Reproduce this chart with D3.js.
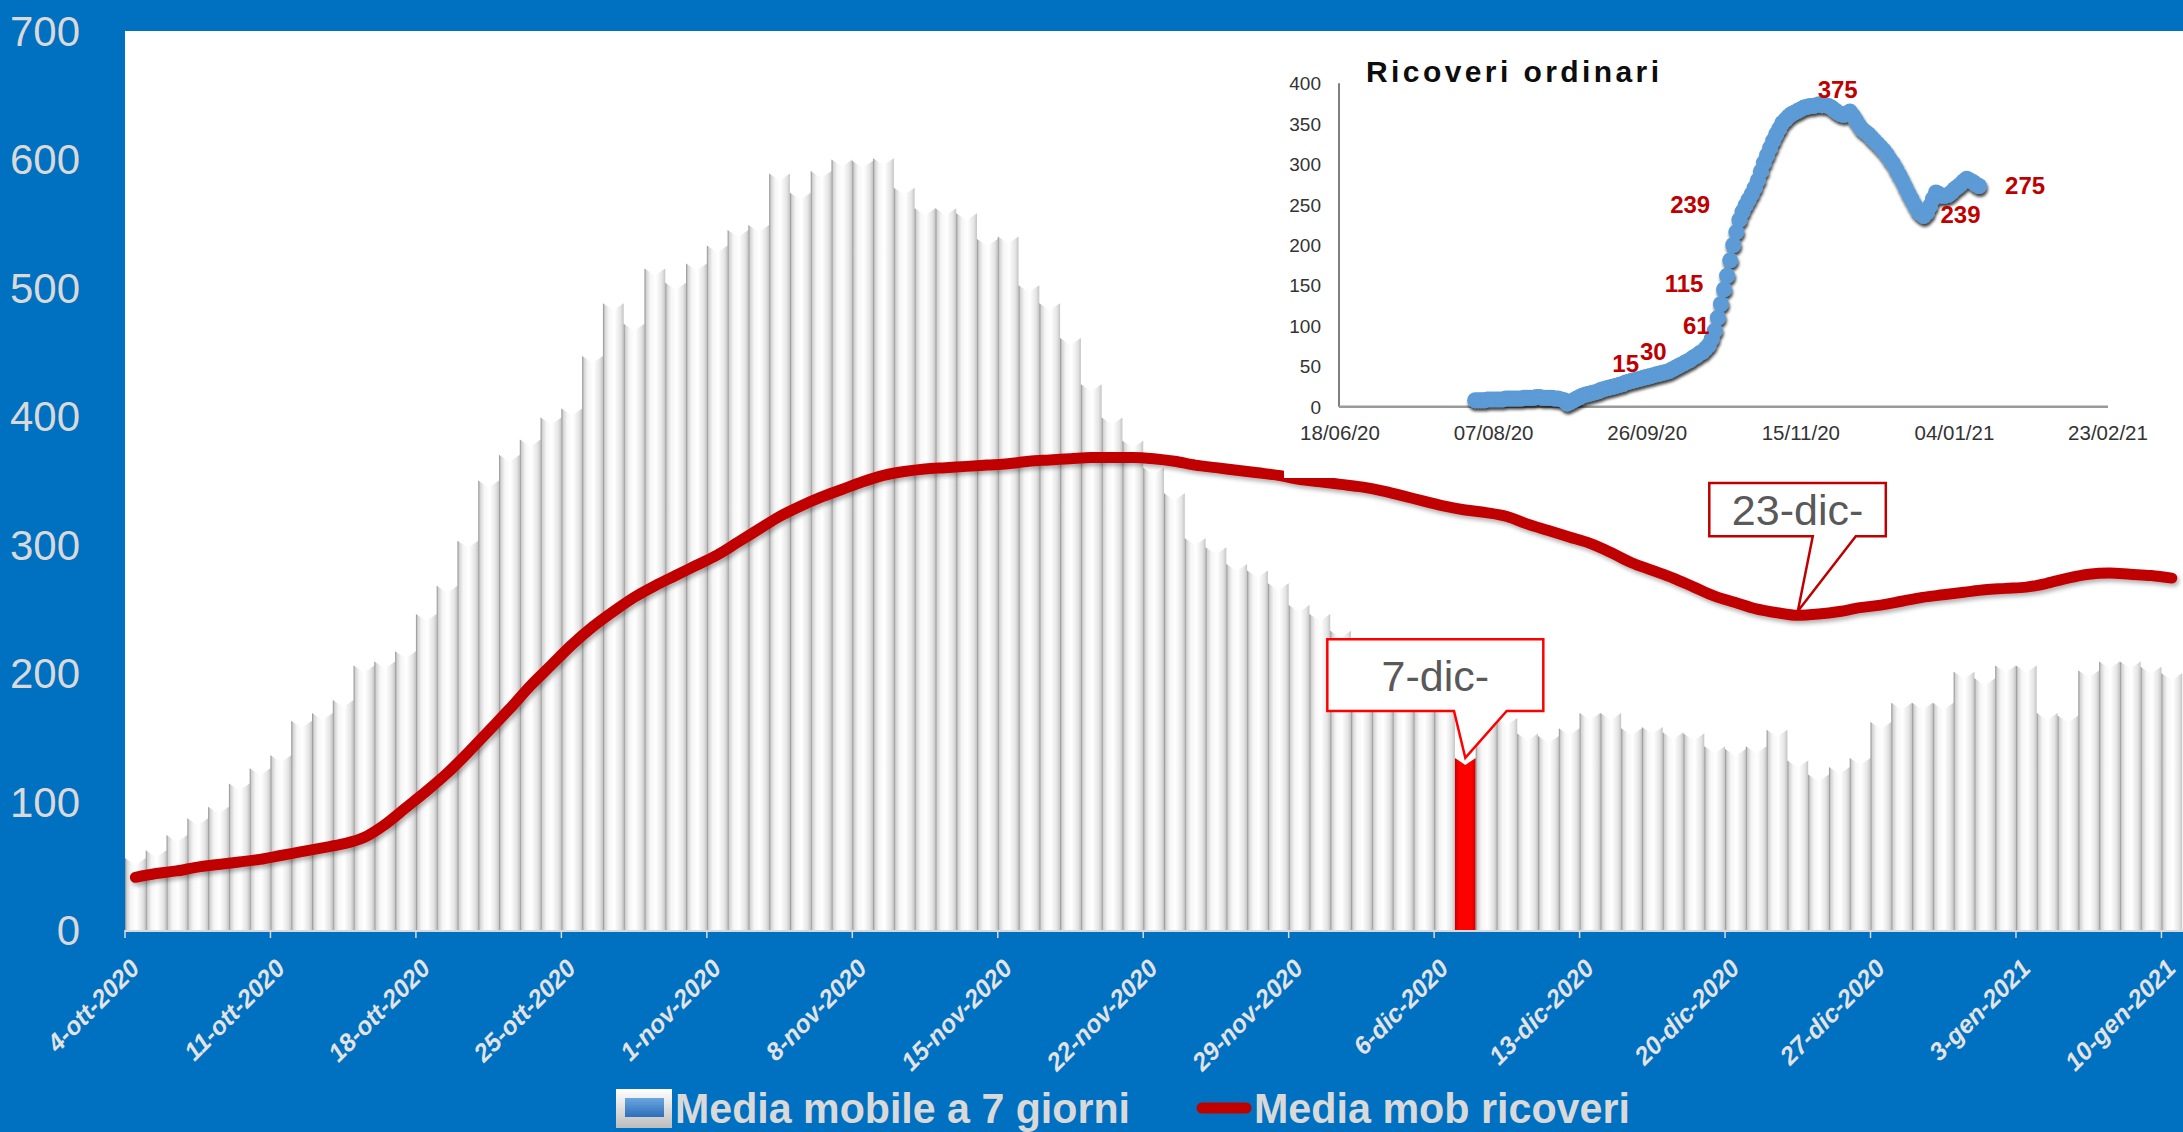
<!DOCTYPE html>
<html>
<head>
<meta charset="utf-8">
<script src="https://cdn.jsdelivr.net/npm/d3@7"></script>
<style>
  html, body { margin: 0; padding: 0; background: #0070C0; }
  svg { display: block; }
  text { font-family: "Liberation Sans", Arial, sans-serif; }
</style>
</head>
<body>
<script>
var W = 2183, H = 1132;

// ---- main chart data: one value per day starting 4-ott-2020 ----
var startDay = "2020-10-04";
var mediaMobile = [
  56, 62, 74, 87, 96, 114, 126, 136, 163, 169,
  179, 206, 209, 217, 246, 268, 303, 350, 370, 382,
  399, 406, 447, 488, 472, 515, 504, 519, 533, 545,
  549, 589, 574, 591, 600, 599, 601, 578, 562, 562,
  558, 538, 540, 502, 488, 461, 425, 399, 381, 360,
  340, 305, 298, 285, 280, 270, 253, 246, 233, 222,
  214, 205, 196, 188, 134, 178, 165, 153, 151, 157,
  169, 169, 157, 158, 154, 153, 143, 141, 143, 156,
  132, 121, 127, 134, 162, 177, 177, 177, 201, 196,
  206, 206, 169, 167, 202, 209, 209, 205, 200
];
var mediaRicoveri = [
  41, 44, 46, 49, 51, 53, 55, 58, 61, 64,
  67, 72, 82, 95, 108, 122, 138, 155, 172, 190,
  206, 222, 236, 248, 259, 268, 276, 284, 292, 302,
  312, 322, 330, 337, 343, 349, 354, 357, 359, 360,
  361, 362, 363, 365, 366, 367, 368, 368, 368, 367,
  365, 362, 360, 358, 356, 354, 351, 349, 347, 345,
  342, 338, 334, 330, 327, 325, 322, 316, 311, 306,
  301, 294, 286, 280, 274, 267, 260, 255, 250, 247,
  245, 246, 248, 251, 253, 256, 259, 261, 263, 265,
  266, 267, 270, 274, 277, 278, 277, 276, 274
];
var highlightDay = "2020-12-07";
var xTickLabels = ["4-ott-2020", "11-ott-2020", "18-ott-2020", "25-ott-2020", "1-nov-2020",
  "8-nov-2020", "15-nov-2020", "22-nov-2020", "29-nov-2020", "6-dic-2020", "13-dic-2020",
  "20-dic-2020", "27-dic-2020", "3-gen-2021", "10-gen-2021"];
var yTicks = [0, 100, 200, 300, 400, 500, 600, 700];
var callouts = [
  { text: "7-dic-", day: "2020-12-07", series: "bar" },
  { text: "23-dic-", day: "2020-12-23", series: "line" }
];
var legendLabels = ["Media mobile a 7 giorni", "Media mob ricoveri"];

// ---- inset "Ricoveri ordinari": one value per day from 1 Aug 2020 ----
var insetStart = "2020-08-01";
var ricoveriOrdinari = [
  8, 8, 8, 8, 9, 9, 9, 9, 9, 9,
  10, 10, 10, 10, 10, 10, 11, 11, 11, 11,
  12, 12, 11, 11, 11, 11, 10, 10, 9, 8,
  4, 6, 8, 10, 12, 14, 15, 16, 17, 18,
  19, 21, 22, 23, 24, 25, 26, 27, 28, 30,
  31, 32, 33, 34, 35, 36, 37, 38, 39, 40,
  41, 42, 43, 44, 46, 48, 50, 52, 54, 56,
  58, 61, 63, 66, 68, 72, 76, 84, 94, 110,
  127, 145, 162, 181, 200, 216, 231, 241, 249, 256,
  263, 271, 280, 291, 302, 311, 320, 329, 337, 344,
  351, 355, 359, 362, 364, 366, 368, 370, 371, 372,
  372, 373, 374, 373, 373, 372, 370, 367, 364, 362,
  361, 363, 365, 360, 354, 348, 343, 340, 337, 333,
  329, 325, 321, 317, 312, 306, 301, 294, 287, 280,
  272, 264, 257, 250, 243, 239, 236, 240, 248, 257,
  265, 263, 261, 261, 262, 265, 269, 272, 275, 279,
  282, 280, 278, 275, 273
];
var insetXDomain = ["2020-06-18", "2021-02-23"];
var insetXTicks = ["2020-06-18", "2020-08-07", "2020-09-26", "2020-11-15", "2021-01-04", "2021-02-23"];
var insetXLabels = ["18/06/20", "07/08/20", "26/09/20", "15/11/20", "04/01/21", "23/02/21"];
var insetYTicks = [0, 50, 100, 150, 200, 250, 300, 350, 400];
var insetLabelText = ["15", "30", "61", "115", "239", "375", "239", "275"];
var insetLabelDate = ["2020-09-19", "2020-09-28", "2020-10-12", "2020-10-08", "2020-10-10", "2020-11-27", "2021-01-06", "2021-01-27"];
var insetLabelValue = [54, 68, 100, 152, 250, 392, 238, 273];

var parse = d3.timeParse("%Y-%m-%d");
var day0 = parse(startDay);
var days = mediaMobile.map(function(d, i) { return d3.timeDay.offset(day0, i); });

var svg = d3.select("body").append("svg")
  .attr("width", W)
  .attr("height", H);

var defs = svg.append("defs");

var barGrad = defs.append("linearGradient").attr("id", "barGrad");
[["0%", "#8c8c8c"], ["9%", "#d4d4d4"], ["28%", "#f6f6f6"], ["55%", "#ffffff"], ["85%", "#e4e4e4"], ["100%", "#c4c4c4"]]
  .forEach(function(s) { barGrad.append("stop").attr("offset", s[0]).attr("stop-color", s[1]); });

var redGrad = defs.append("linearGradient").attr("id", "redGrad");
[["0%", "#c00000"], ["20%", "#ff0000"], ["80%", "#ff0000"], ["100%", "#d00000"]]
  .forEach(function(s) { redGrad.append("stop").attr("offset", s[0]).attr("stop-color", s[1]); });

var frameGrad = defs.append("linearGradient").attr("id", "frameGrad").attr("x1", 0).attr("x2", 0).attr("y1", 0).attr("y2", 1);
[["0%", "#ffffff"], ["100%", "#bdbdbd"]]
  .forEach(function(s) { frameGrad.append("stop").attr("offset", s[0]).attr("stop-color", s[1]); });

var blueGrad = defs.append("linearGradient").attr("id", "blueGrad").attr("x1", 0).attr("x2", 0).attr("y1", 0).attr("y2", 1);
[["0%", "#6aa6e0"], ["100%", "#2f6fba"]]
  .forEach(function(s) { blueGrad.append("stop").attr("offset", s[0]).attr("stop-color", s[1]); });

defs.append("filter").attr("id", "lineShadow")
  .attr("x", "-5%").attr("y", "-20%").attr("width", "110%").attr("height", "140%")
  .append("feDropShadow")
  .attr("dx", 2).attr("dy", 3).attr("stdDeviation", 2)
  .attr("flood-color", "#000").attr("flood-opacity", 0.3);

defs.append("filter").attr("id", "dotShadow")
  .attr("x", "-10%").attr("y", "-10%").attr("width", "120%").attr("height", "130%")
  .append("feDropShadow")
  .attr("dx", 1).attr("dy", 3).attr("stdDeviation", 1.5)
  .attr("flood-color", "#000").attr("flood-opacity", 0.75);

// background
svg.append("rect").attr("width", W).attr("height", H).attr("fill", "#0070C0");

var plot = { left: 125, top: 31, bottom: 930, right: W };
svg.append("rect")
  .attr("x", plot.left).attr("y", plot.top)
  .attr("width", plot.right - plot.left).attr("height", plot.bottom - plot.top)
  .attr("fill", "#ffffff");

var x = d3.scaleBand()
  .domain(days)
  .range([plot.left, plot.left + days.length * 20.78])
  .padding(0);

var y = d3.scaleLinear()
  .domain([0, 700])
  .range([plot.bottom, plot.top]);

var bw = x.bandwidth();
var notch = 7;
var isHighlight = function(d) { return +d === +parse(highlightDay); };

// bars with a V notch on top
svg.append("g").attr("class", "bars")
  .selectAll("path")
  .data(days)
  .enter()
  .append("path")
  .attr("d", function(d, i) {
    var x0 = x(d), x1 = x(d) + bw, yt = y(mediaMobile[i]);
    return "M" + x0 + "," + plot.bottom + "V" + yt +
      "L" + (x0 + bw / 2) + "," + (yt + notch) +
      "L" + x1 + "," + yt + "V" + plot.bottom + "Z";
  })
  .attr("fill", function(d) { return isHighlight(d) ? "url(#redGrad)" : "url(#barGrad)"; });

// smoothed moving-average line
var line = d3.line()
  .x(function(d, i) { return x(days[i]) + bw / 2; })
  .y(function(d) { return y(d); })
  .curve(d3.curveMonotoneX);

svg.append("path")
  .datum(mediaRicoveri)
  .attr("d", line)
  .attr("fill", "none")
  .attr("stroke", "#C00000")
  .attr("stroke-width", 11)
  .attr("stroke-linecap", "round")
  .attr("stroke-linejoin", "round")
  .attr("filter", "url(#lineShadow)");

// ---- inset chart ----
var inset = svg.append("g").attr("class", "inset");
inset.append("rect")
  .attr("x", 1284).attr("y", plot.top)
  .attr("width", W - 1284).attr("height", 478 - plot.top)
  .attr("fill", "#ffffff");

var ix = d3.scaleTime()
  .domain(insetXDomain.map(parse))
  .range([1340, 2108]);
var iy = d3.scaleLinear()
  .domain([0, 400])
  .range([406.7, 83.3]);

inset.append("line")
  .attr("x1", 1339).attr("x2", 1339)
  .attr("y1", iy(400)).attr("y2", iy(0))
  .attr("stroke", "#7f7f7f").attr("stroke-width", 2);
inset.append("line")
  .attr("x1", 1339).attr("x2", ix(parse(insetXDomain[1])))
  .attr("y1", iy(0)).attr("y2", iy(0))
  .attr("stroke", "#9a9a9a").attr("stroke-width", 2.5);

inset.selectAll(".iyl")
  .data(insetYTicks)
  .enter()
  .append("text")
  .attr("class", "iyl")
  .attr("x", 1321)
  .attr("y", function(d) { return iy(d) + 7; })
  .attr("text-anchor", "end")
  .attr("font-size", 19)
  .attr("fill", "#333333")
  .text(function(d) { return d; });

inset.selectAll(".ixl")
  .data(insetXTicks)
  .enter()
  .append("text")
  .attr("class", "ixl")
  .attr("x", function(d) { return ix(parse(d)); })
  .attr("y", 440)
  .attr("text-anchor", "middle")
  .attr("font-size", 20.5)
  .attr("fill", "#333333")
  .text(function(d, i) { return insetXLabels[i]; });

inset.append("text")
  .attr("x", 1366)
  .attr("y", 82)
  .attr("font-size", 30)
  .attr("font-weight", "bold")
  .attr("fill", "#0d0d0d")
  .attr("textLength", 293)
  .attr("lengthAdjust", "spacing")
  .text("Ricoveri ordinari");

var i0 = parse(insetStart);
inset.append("g")
  .attr("filter", "url(#dotShadow)")
  .selectAll("circle")
  .data(ricoveriOrdinari)
  .enter()
  .append("circle")
  .attr("cx", function(d, i) { return ix(d3.timeDay.offset(i0, i)); })
  .attr("cy", function(d) { return iy(d); })
  .attr("r", 8)
  .attr("fill", "#5B9BD5");

inset.selectAll(".ilab")
  .data(insetLabelText)
  .enter()
  .append("text")
  .attr("class", "ilab")
  .attr("x", function(d, i) { return ix(parse(insetLabelDate[i])); })
  .attr("y", function(d, i) { return iy(insetLabelValue[i]) + 8.5; })
  .attr("text-anchor", "middle")
  .attr("font-size", 24)
  .attr("font-weight", "bold")
  .attr("fill", "#C00000")
  .text(function(d) { return d; });

// ---- callouts ----
var calloutLayout = [
  { bx0: -138, bx1: 78, by0: -118.6, by1: -47, b0: -11.3, b1: 41.4, stroke: "#FF0000" },
  { bx0: -88.5, bx1: 88, by0: -128.3, by1: -75, b0: 15, b1: 58, stroke: "#C00000" }
];
callouts.forEach(function(c, k) {
  var idx = d3.bisector(function(d) { return d; }).left(days, parse(c.day));
  var tx = x(days[idx]) + bw / 2;
  var ty = c.series === "bar" ? y(mediaMobile[idx]) : y(mediaRicoveri[idx]) - 4;
  var L = calloutLayout[k];
  var g = svg.append("g").attr("class", "callout");
  g.append("path")
    .attr("d", "M" + (tx + L.bx0) + "," + (ty + L.by0) +
      "H" + (tx + L.bx1) + "V" + (ty + L.by1) +
      "H" + (tx + L.b1) + "L" + tx + "," + ty +
      "L" + (tx + L.b0) + "," + (ty + L.by1) +
      "H" + (tx + L.bx0) + "Z")
    .attr("fill", "#ffffff")
    .attr("stroke", L.stroke)
    .attr("stroke-width", 2.5);
  g.append("text")
    .attr("x", tx + (L.bx0 + L.bx1) / 2)
    .attr("y", ty + (L.by0 + L.by1) / 2 + 15.5)
    .attr("text-anchor", "middle")
    .attr("font-size", 43)
    .attr("fill", "#595959")
    .text(c.text);
});

// ---- axes ----
svg.append("line")
  .attr("x1", plot.left).attr("x2", plot.right)
  .attr("y1", plot.bottom + 1).attr("y2", plot.bottom + 1)
  .attr("stroke", "#d9d9d9").attr("stroke-width", 2);

var tickDays = xTickLabels.map(function(d, i) { return days[i * 7]; });
svg.selectAll(".xtick")
  .data(tickDays)
  .enter()
  .append("line")
  .attr("class", "xtick")
  .attr("x1", function(d) { return x(d); })
  .attr("x2", function(d) { return x(d); })
  .attr("y1", plot.bottom)
  .attr("y2", plot.bottom + 8)
  .attr("stroke", "#d9d9d9")
  .attr("stroke-width", 1.5);

svg.selectAll(".xlab")
  .data(tickDays)
  .enter()
  .append("text")
  .attr("class", "xlab")
  .attr("transform", function(d) {
    return "translate(" + (x(d) + 16) + "," + 970 + ") rotate(-45)";
  })
  .attr("text-anchor", "end")
  .attr("font-size", 25)
  .attr("font-weight", "bold")
  .attr("font-style", "italic")
  .attr("fill", "#e3e3e3")
  .text(function(d, i) { return xTickLabels[i]; });

svg.selectAll(".ylab")
  .data(yTicks)
  .enter()
  .append("text")
  .attr("class", "ylab")
  .attr("x", 80)
  .attr("y", function(d) { return y(d) + 15; })
  .attr("text-anchor", "end")
  .attr("font-size", 42)
  .attr("fill", "#d9d9d9")
  .text(function(d) { return d; });

// ---- legend ----
var legend = svg.append("g").attr("class", "legend");
legend.append("rect")
  .attr("x", 616).attr("y", 1089).attr("width", 56).attr("height", 39)
  .attr("fill", "url(#frameGrad)");
legend.append("rect")
  .attr("x", 625).attr("y", 1098).attr("width", 39).attr("height", 19)
  .attr("fill", "url(#blueGrad)");
legend.append("line")
  .attr("x1", 1202).attr("x2", 1246)
  .attr("y1", 1108).attr("y2", 1108)
  .attr("stroke", "#C00000").attr("stroke-width", 11)
  .attr("stroke-linecap", "round");
legend.selectAll("text")
  .data(legendLabels)
  .enter()
  .append("text")
  .attr("x", function(d, i) { return i === 0 ? 675 : 1254; })
  .attr("y", 1123)
  .attr("font-size", 42)
  .attr("font-weight", "bold")
  .attr("fill", "#d9d9d9")
  .attr("textLength", function(d, i) { return i === 0 ? 455 : 376; })
  .attr("lengthAdjust", "spacingAndGlyphs")
  .text(function(d) { return d; });
</script>
</body>
</html>
